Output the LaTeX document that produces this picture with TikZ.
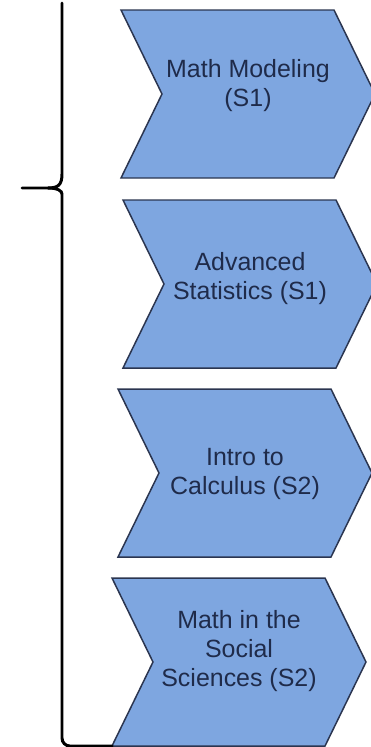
\documentclass[tikz,border=0pt]{standalone}
\usepackage{fontspec}
\newfontfamily\coursefont{Liberation Sans}
\usetikzlibrary{calc}

\definecolor{courseblue}{HTML}{7EA6E0}
\definecolor{courseedge}{HTML}{2B3550}
\definecolor{textnavy}{HTML}{1F2B4A}

\begin{document}
\begin{tikzpicture}[
    x=0.02cm,
    y=-0.02cm,
    chevron/.style={fill=courseblue, draw=courseedge, line width=0.85pt, line join=miter},
    coursetext/.style={text=textnavy, align=center, font={\coursefont\fontsize{14.2}{16.5}\selectfont}},
    brace/.style={black, line width=1.7pt, line cap=round}
]

% -------------------------------------------------------------------------
% Page frame
% -------------------------------------------------------------------------
\useasboundingbox (0,0) rectangle (371,747);

% -------------------------------------------------------------------------
% Chevron size
% -------------------------------------------------------------------------
\def\bodywidth{213}
\def\tipdepth{41}
\def\chevheight{168}

% -------------------------------------------------------------------------
% Courses: left x, top y, text drop
% -------------------------------------------------------------------------
\foreach \lx/\ty/\dy/\txt [count=\i] in {
    121/10/76/{Math Modeling\\(S1)},
    123/200/79/{Advanced\\Statistics (S1)},
    118/389/85/{Intro to\\Calculus (S2)},
    112/578/73/{Math in the\\Social\\Sciences (S2)}}{
    \draw[ chevron ]
        (\lx,\ty) -- ++(\bodywidth,0) -- ++(\tipdepth,\chevheight/2)
        -- ++(-\tipdepth,\chevheight/2) -- ++(-\bodywidth,0)
        -- ++(\tipdepth,-\chevheight/2) -- cycle;
    \coordinate (chev-\i-sw) at (\lx,\ty+\chevheight);
    \node[ coursetext ] (course-\i) at (\lx+127,\ty+\dy) {\txt};
}

% -------------------------------------------------------------------------
% Brace
% -------------------------------------------------------------------------
\coordinate (brace-tip) at (22,188);

% upper arm
\draw[ brace ]
    (62,3) -- (62,174) .. controls (62,185) and (58,188) .. (48,188) -- (brace-tip);

% lower arm, closed off under the last course
\draw[ brace, rounded corners=4.5pt ]
    (48,188) .. controls (58,188) and (62,191) .. (62,202)
    -- (chev-4-sw -| 62,0) -- (chev-4-sw);

\end{tikzpicture}
\end{document}
